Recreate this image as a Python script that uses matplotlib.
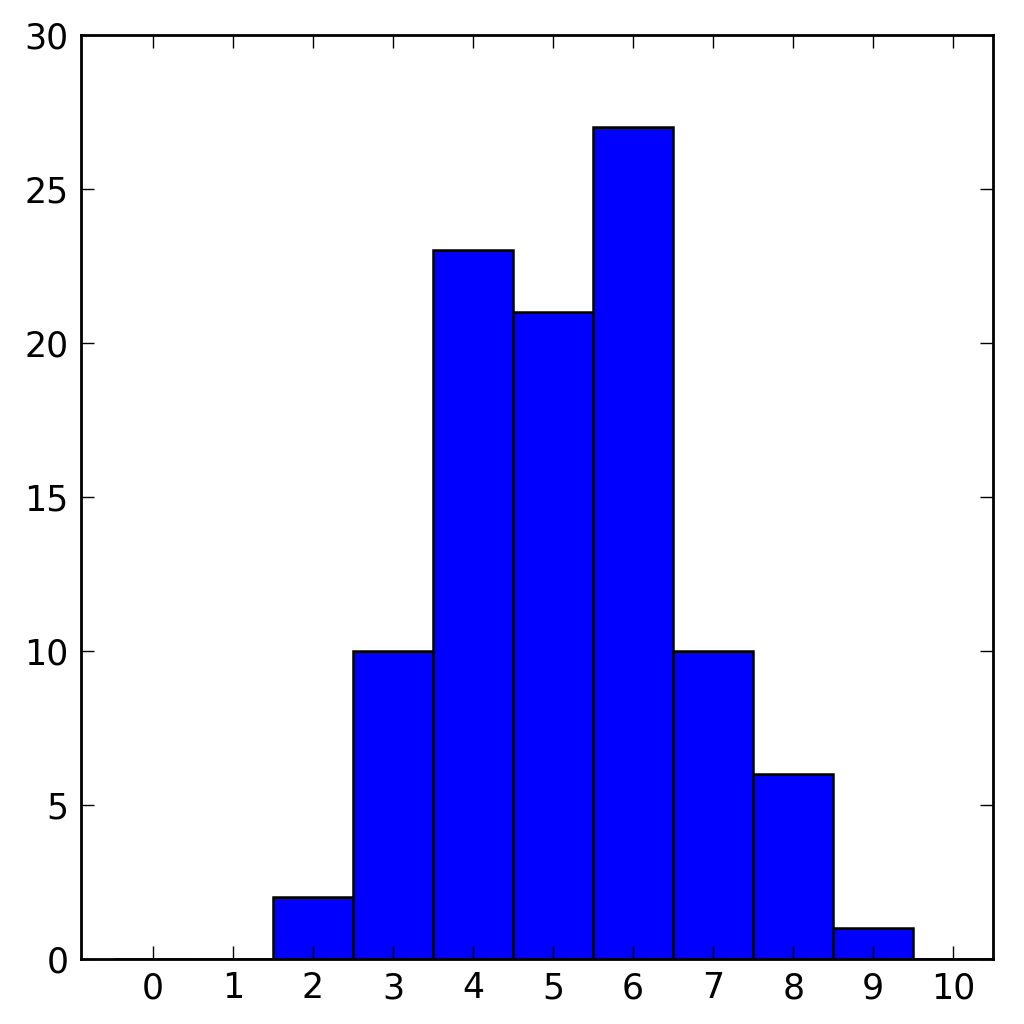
import matplotlib
matplotlib.use("Agg")
import matplotlib.pyplot as plt

# histogram counts, one bin per integer value
values = [0, 1, 2, 3, 4, 5, 6, 7, 8, 9, 10]
counts = [0, 0, 2, 10, 23, 21, 27, 10, 6, 1, 0]
bin_edges = [v - 0.5 for v in values] + [values[-1] + 0.5]

fig = plt.figure(figsize=(10.24, 10.24), dpi=100)
ax = fig.add_axes([0.079, 0.0635, 0.891, 0.9025])

ax.hist(values, bins=bin_edges, weights=counts, color="#0000ff",
        edgecolor="black", linewidth=1.8)

ax.set_xlim(-0.9, 10.5)
ax.set_ylim(0, 30)
ax.set_xticks(values)
ax.set_yticks(range(0, 31, 5))

for side in ax.spines.values():
    side.set_linewidth(2.0)
ax.tick_params(direction="in", length=9.5, width=1.0, labelsize=25,
               top=True, right=True, pad=9)

fig.savefig("out.png", dpi=100)
